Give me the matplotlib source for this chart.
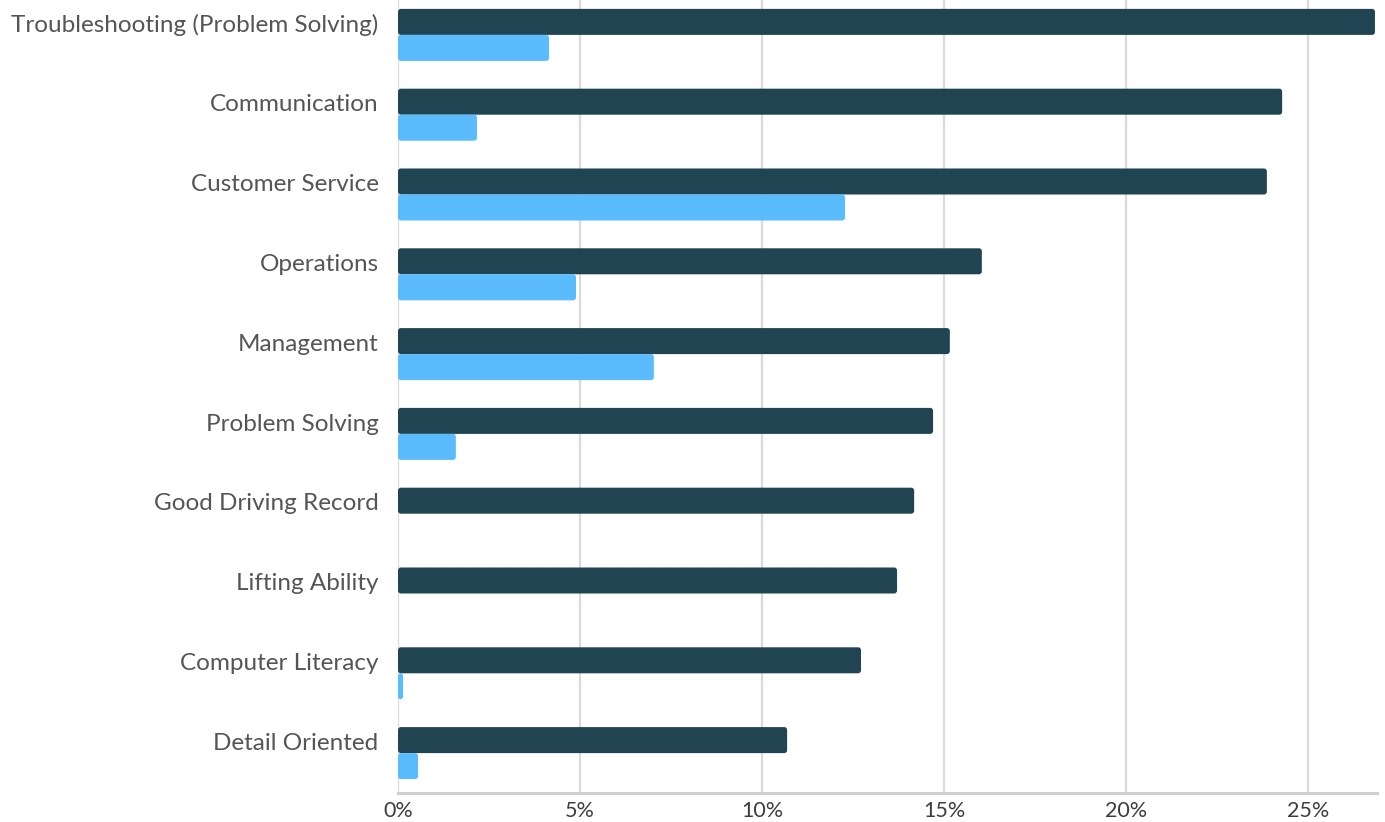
import matplotlib.pyplot as plt
from matplotlib.patches import FancyBboxPatch

plt.rcParams['font.family'] = ['Lato', 'DejaVu Sans']

skills = [
    "Troubleshooting (Problem Solving)",
    "Communication",
    "Customer Service",
    "Operations",
    "Management",
    "Problem Solving",
    "Good Driving Record",
    "Lifting Ability",
    "Computer Literacy",
    "Detail Oriented",
]
share_a = [26.84, 24.29, 23.87, 16.04, 15.16, 14.70, 14.18, 13.71, 12.72, 10.69]
share_b = [4.15, 2.17, 12.28, 4.89, 7.03, 1.59, 0.0, 0.0, 0.14, 0.55]
xticks = [0, 5, 10, 15, 20, 25]

DARK = "#214453"
LIGHT = "#5bbcfd"
H = 0.326

fig = plt.figure(figsize=(13.85, 8.22), dpi=100)
ax = fig.add_axes([398 / 1385, 1 - 793 / 822, 979 / 1385, 798 / 822])
ax.set_xlim(0, 979 / 36.4)
ax.set_ylim(len(skills) - 0.5, -0.5)


def rounded_barh(y, widths, color):
    bars = ax.barh(y, widths, height=H, color=color)
    for b in bars:
        w = b.get_width()
        if w <= 0:
            b.remove()
            continue
        x0, y0 = b.get_xy()
        p = FancyBboxPatch((x0, y0), w, b.get_height(),
                           boxstyle="round,pad=0,rounding_size=0.08",
                           mutation_aspect=0.46, fc=color, ec="none", zorder=3)
        b.remove()
        ax.add_patch(p)


ypos = list(range(len(skills)))
rounded_barh([y - H / 2 for y in ypos], share_a, DARK)
rounded_barh([y + H / 2 for y in ypos], share_b, LIGHT)

ax.set_yticks([y - H / 2 + 0.015 for y in ypos])
ax.set_yticklabels(skills, fontsize=17.5, color="#555555")
ax.set_xticks(xticks)
ax.set_xticklabels([f"{t}%" for t in xticks], fontsize=15.5, color="#3d3d3d")
ax.tick_params(axis="y", length=0, pad=14)
ax.tick_params(axis="x", length=0, pad=6)

ax.grid(axis="x", color="#dadada", linewidth=1.6, zorder=0)
ax.set_axisbelow(True)
for s in ("top", "right", "left"):
    ax.spines[s].set_visible(False)
ax.spines["bottom"].set_color("#d0d0d0")
ax.spines["bottom"].set_linewidth(2.2)

fig.savefig("out.png", dpi=100)
